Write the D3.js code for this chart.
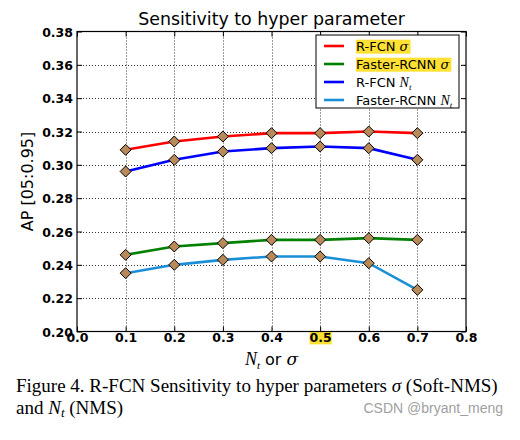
<!DOCTYPE html>
<html><head><meta charset="utf-8">
<script src="https://cdn.jsdelivr.net/npm/d3@7"></script>
<style>body{margin:0;background:#fff}svg{display:block}</style>
</head><body>
<script>
const xVals = [0.1, 0.2, 0.3, 0.4, 0.5, 0.6, 0.7];
const rfcnSigma = [0.309, 0.314, 0.317, 0.319, 0.319, 0.320, 0.319];
const fasterSigma = [0.246, 0.251, 0.253, 0.255, 0.255, 0.256, 0.255];
const rfcnNt = [0.296, 0.303, 0.308, 0.310, 0.311, 0.310, 0.303];
const fasterNt = [0.235, 0.240, 0.243, 0.245, 0.245, 0.241, 0.225];
const xTicks = [0.0, 0.1, 0.2, 0.3, 0.4, 0.5, 0.6, 0.7, 0.8];
const yTicks = [0.20, 0.22, 0.24, 0.26, 0.28, 0.30, 0.32, 0.34, 0.36, 0.38];
const seriesNames = ["R-FCN", "Faster-RCNN", "R-FCN", "Faster-RCNN"];
const seriesColors = ["#ff0000", "#008000", "#0000ff", "#1a8fd8"];

const W = 520, H = 440;
const m = {l: 77, r: 54, t: 31.5, b: 108.5};
const svg = d3.select("body").append("svg").attr("width", W).attr("height", H);
const x = d3.scaleLinear().domain([0, 0.8]).range([m.l, W - m.r]);
const y = d3.scaleLinear().domain([0.20, 0.38]).range([H - m.b, m.t]);
const x0 = m.l, x1 = W - m.r, y0 = H - m.b, y1 = m.t;
const HL = "#ffe033";

// grid
const g = svg.append("g");
g.selectAll(".vg").data(xTicks.slice(1, -1)).join("line")
  .attr("x1", d => Math.round(x(d)) + 0.5).attr("x2", d => Math.round(x(d)) + 0.5)
  .attr("y1", y1).attr("y2", y0).attr("stroke", "#000").attr("stroke-width", 0.8).attr("stroke-dasharray", "1,2");
g.selectAll(".hg").data(yTicks.slice(1, -1)).join("line")
  .attr("y1", d => Math.round(y(d)) + 0.5).attr("y2", d => Math.round(y(d)) + 0.5)
  .attr("x1", x0).attr("x2", x1).attr("stroke", "#000").attr("stroke-width", 0.8).attr("stroke-dasharray", "1,2");

// axes with inward ticks
const fontTick = "bold 12.5px 'DejaVu Sans'";
const axB = svg.append("g").attr("transform", `translate(0,${y0})`)
  .call(d3.axisBottom(x).tickValues(xTicks).tickSize(-5).tickPadding(4).tickFormat(d3.format(".1f")));
const axT = svg.append("g").attr("transform", `translate(0,${y1})`)
  .call(d3.axisTop(x).tickValues(xTicks).tickSize(-5).tickFormat(""));
const axL = svg.append("g").attr("transform", `translate(${x0},0)`)
  .call(d3.axisLeft(y).tickValues(yTicks).tickSize(-5).tickPadding(4).tickFormat(d3.format(".2f")));
const axR = svg.append("g").attr("transform", `translate(${x1},0)`)
  .call(d3.axisRight(y).tickValues(yTicks).tickSize(-5).tickFormat(""));
[axB, axT, axL, axR].forEach(a => {
  a.select(".domain").remove();
  a.selectAll("line").attr("stroke", "#000");
  a.selectAll("text").style("font", fontTick).attr("fill", "#000");
});
axB.selectAll("text").attr("dy", "0.55em");
axL.selectAll("text").attr("dy", "0.36em");
// highlight 0.5 label
axB.selectAll(".tick").filter(d => d === 0.5).each(function() {
  const t = d3.select(this).select("text");
  const bb = t.node().getBBox();
  d3.select(this).insert("rect", "text").attr("x", bb.x).attr("y", bb.y + 1).attr("width", bb.width).attr("height", bb.height - 2).attr("fill", HL);
});
svg.append("rect").attr("x", x0).attr("y", y1).attr("width", x1 - x0).attr("height", y0 - y1)
  .attr("fill", "none").attr("stroke", "#000").attr("stroke-width", 1.2);

// series
const all = [rfcnSigma, fasterSigma, rfcnNt, fasterNt];
const line = d3.line().x((d, i) => x(xVals[i])).y(d => y(d));
all.forEach((s, k) => {
  svg.append("path").datum(s).attr("d", line).attr("fill", "none")
    .attr("stroke", seriesColors[k]).attr("stroke-width", 2.6);
});
all.forEach((s, k) => {
  svg.append("g").selectAll("path").data(s).join("path")
    .attr("transform", (d, i) => `translate(${x(xVals[i])},${y(d)})`)
    .attr("d", "M0,-5.5L5.5,0L0,5.5L-5.5,0Z")
    .attr("fill", "#b88a5a").attr("stroke", "#000").attr("stroke-width", 1);
});

// legend
const lg = svg.append("g");
lg.append("rect").attr("x", 316).attr("y", 35).attr("width", 143).attr("height", 73)
  .attr("fill", "#fff").attr("stroke", "#000").attr("stroke-width", 1);
const ly = [46, 64, 82, 100];
seriesNames.forEach((n, k) => {
  lg.append("line").attr("x1", 324).attr("x2", 344).attr("y1", ly[k]).attr("y2", ly[k])
    .attr("stroke", seriesColors[k]).attr("stroke-width", 2.6);
  const t = lg.append("text").attr("x", 356).attr("y", ly[k]).attr("dy", "0.36em")
    .style("font", "13px 'DejaVu Sans'");
  t.append("tspan").text(n + " ");
  if (k < 2) {
    t.append("tspan").style("font", "italic 13px 'DejaVu Serif'").text("σ");
    const bb = t.node().getBBox();
    lg.insert("rect", "text").attr("x", bb.x).attr("y", bb.y + 1).attr("width", bb.width + 1).attr("height", bb.height - 1).attr("fill", HL);
  } else {
    t.append("tspan").style("font", "italic 14px 'Liberation Serif'").text("N");
    t.append("tspan").style("font", "italic 9px 'Liberation Serif'").attr("dy", "3").text("t");
  }
});

// title and labels
svg.append("text").attr("x", (x0 + x1) / 2).attr("y", 25).attr("text-anchor", "middle")
  .style("font", "17.4px 'DejaVu Sans'").text("Sensitivity to hyper parameter");
svg.append("text").attr("transform", `translate(33,${(y0 + y1) / 2}) rotate(-90)`).attr("text-anchor", "middle")
  .style("font", "16px 'DejaVu Sans'").text("AP [05:0.95]");
const xl = svg.append("text").attr("x", (x0 + x1) / 2).attr("y", 365).attr("text-anchor", "middle")
  .style("font", "16px 'DejaVu Sans'");
xl.append("tspan").style("font", "italic 18px 'Liberation Serif'").text("N");
xl.append("tspan").style("font", "italic 11px 'Liberation Serif'").attr("dy", "4").text("t");
xl.append("tspan").attr("dy", "-4").text(" or ");
xl.append("tspan").style("font", "italic 17px 'DejaVu Serif'").text("σ");

// caption
const cap1 = svg.append("text").attr("x", 16).attr("y", 392).style("font", "19px 'Liberation Serif'");
cap1.append("tspan").text("Figure 4. R-FCN Sensitivity to hyper parameters ");
cap1.append("tspan").style("font-style", "italic").text("σ");
cap1.append("tspan").text(" (Soft-NMS)");
const cap2 = svg.append("text").attr("x", 16).attr("y", 414).style("font", "19px 'Liberation Serif'");
cap2.append("tspan").text("and ");
cap2.append("tspan").style("font-style", "italic").text("N");
cap2.append("tspan").style("font-style", "italic").style("font-size", "13px").attr("dy", "3").text("t");
cap2.append("tspan").attr("dy", "-3").text(" (NMS)");
svg.append("text").attr("x", 503).attr("y", 413).attr("text-anchor", "end")
  .style("font", "14px 'Liberation Sans'").attr("fill", "#a0a0a0").text("CSDN @bryant_meng");
</script>
</body></html>
